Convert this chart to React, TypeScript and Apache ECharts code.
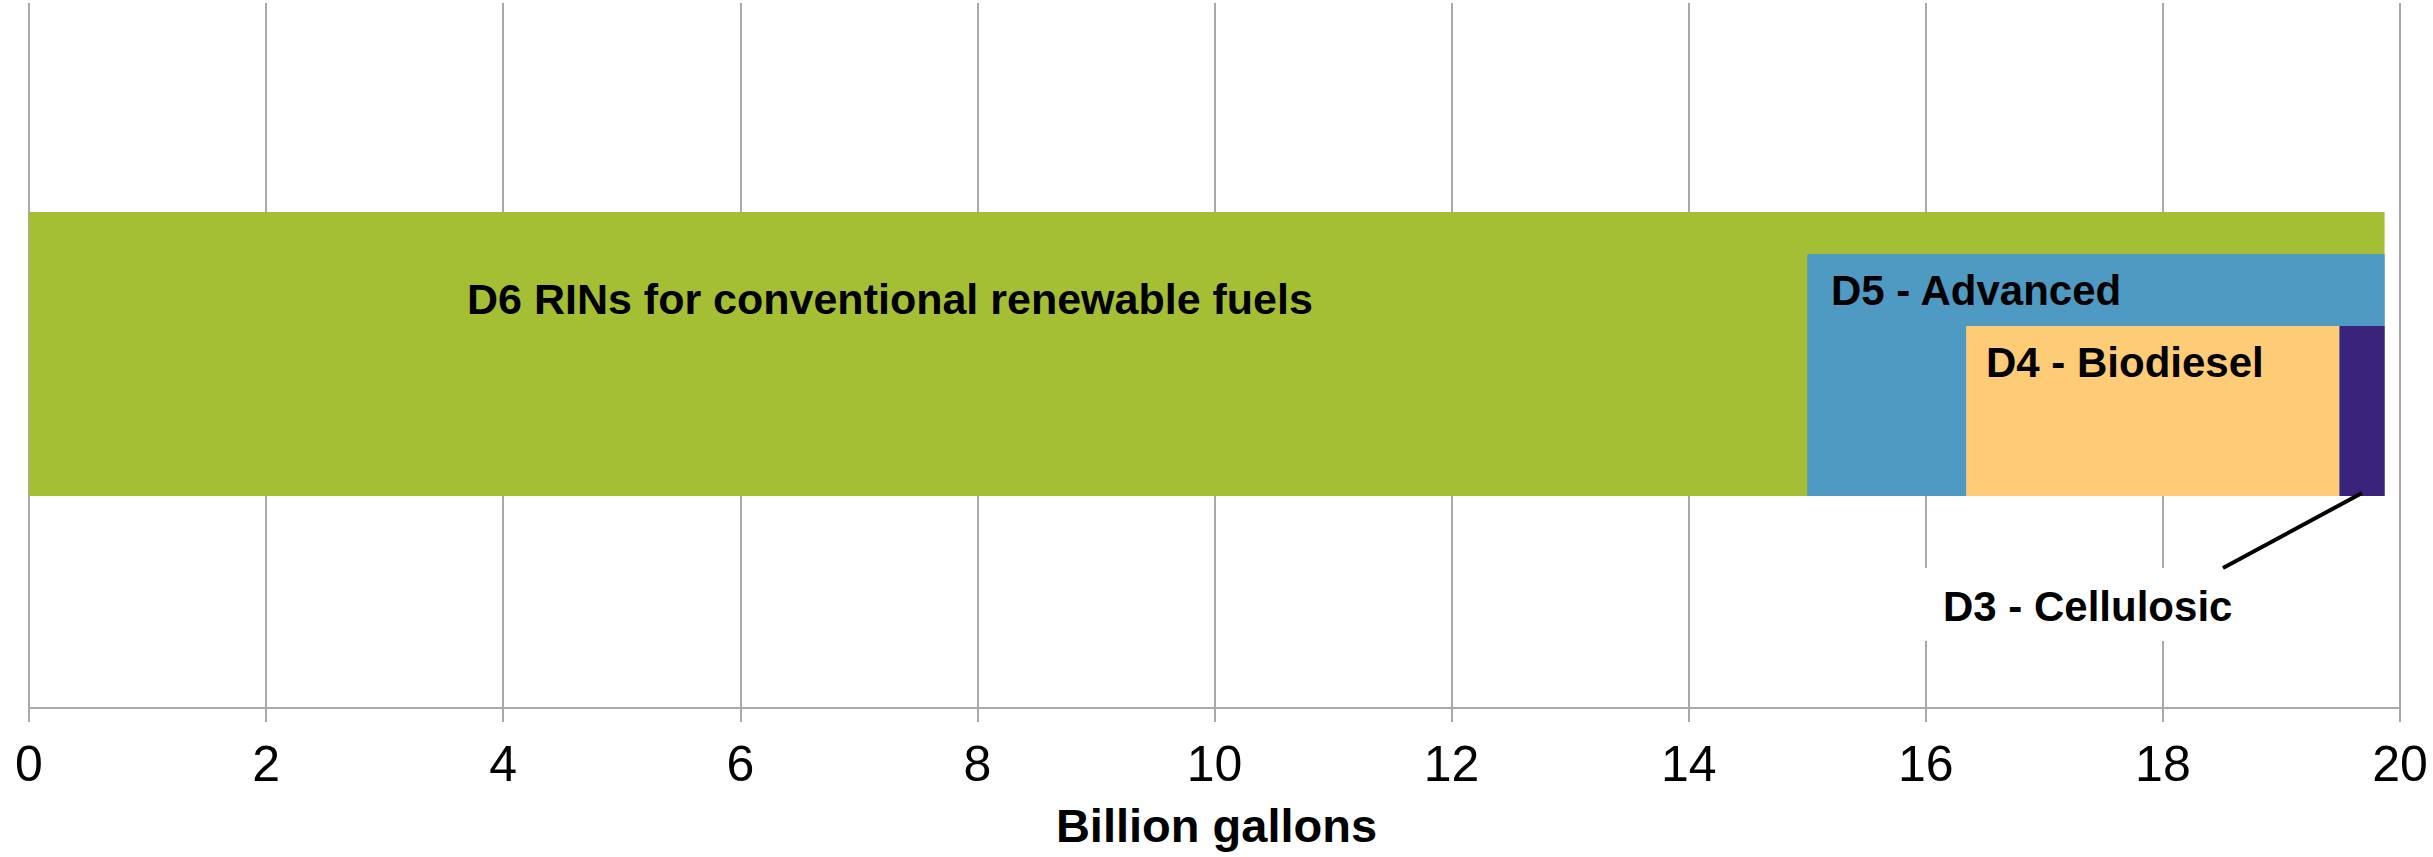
import React, { useEffect, useRef } from "react";
import * as echarts from "echarts";

// ---- data (billion gallons) ----
const segmentNames = ["Total renewable fuel", "D5 - Advanced", "D4 - Biodiesel", "D3 - Cellulosic"];
const segmentStart = [0, 15.0, 16.34, 19.49];
const segmentEnd = [19.87, 19.87, 19.49, 19.87];
const segmentColors = ["#A5BF34", "#4F9AC2", "#FECC76", "#3A247B"];
const xTicks = [0, 2, 4, 6, 8, 10, 12, 14, 16, 18, 20];
const labelD6 = "D6 RINs for conventional renewable fuels";
const labelD5 = "D5 - Advanced";
const labelD4 = "D4 - Biodiesel";
const labelD3 = "D3 - Cellulosic";
const axisTitle = "Billion gallons";

// ---- layout (pixels, offsets from grid top) ----
const W = 2433;
const H = 857;
const GRID = { left: 29, right: 33, top: 3, bottom: 149 };
const segmentTop = [209, 251, 323, 323];
const barBottom = 493;
const FONT = "'Liberation Sans', Arial, Helvetica, sans-serif";
const GRIDCOL = "#a9a9a9";

export default function App() {
  const ref = useRef<HTMLDivElement>(null);
  useEffect(() => {
    if (!ref.current) return;
    const chart = echarts.init(ref.current, undefined, { renderer: "svg" });
    const data = segmentNames.map((n, i) => ({
      name: n,
      value: [segmentStart[i], segmentEnd[i], i],
    }));
    chart.setOption({
      animation: false,
      backgroundColor: "#ffffff",
      grid: { ...GRID, containLabel: false },
      xAxis: {
        type: "value",
        min: xTicks[0],
        max: xTicks[xTicks.length - 1],
        interval: 2,
        axisLine: { show: true, lineStyle: { color: GRIDCOL, width: 2 } },
        axisTick: { show: true, length: 14, lineStyle: { color: GRIDCOL, width: 2 } },
        splitLine: { show: true, lineStyle: { color: GRIDCOL, width: 2 } },
        axisLabel: { fontSize: 50, color: "#000", fontFamily: FONT, margin: 31 },
      },
      yAxis: { type: "value", min: 0, max: 1, show: false },
      series: [
        {
          type: "custom",
          data,
          encode: { x: [0, 1] },
          renderItem: (params: any, api: any) => {
            const s = api.value(0);
            const e = api.value(1);
            const idx = api.value(2);
            const p0 = api.coord([s, 0]);
            const p1 = api.coord([e, 0]);
            const cs = params.coordSys;
            const top = cs.y + segmentTop[idx];
            const bottom = cs.y + barBottom;
            return {
              type: "rect",
              shape: { x: p0[0], y: top, width: p1[0] - p0[0], height: bottom - top },
              style: { fill: segmentColors[idx] },
            };
          },
          z: 3,
        },
      ],
      graphic: [
        {
          type: "text",
          left: 467,
          top: 298 - 21,
          z: 10,
          style: { text: labelD6, font: `bold 43px ${FONT}`, fill: "#000" },
        },
        {
          type: "text",
          left: 1831,
          top: 290 - 21,
          z: 10,
          style: { text: labelD5, font: `bold 42px ${FONT}`, fill: "#000" },
        },
        {
          type: "text",
          left: 1986,
          top: 362 - 21,
          z: 10,
          style: { text: labelD4, font: `bold 42px ${FONT}`, fill: "#000" },
        },
        {
          type: "rect",
          shape: { x: 1895, y: 568, width: 380, height: 73 },
          style: { fill: "#ffffff" },
          z: 8,
        },
        {
          type: "line",
          shape: { x1: 2362, y1: 493, x2: 2223, y2: 568 },
          style: { stroke: "#000", lineWidth: 4 },
          z: 9,
        },
        {
          type: "text",
          left: 1943,
          top: 606 - 21,
          z: 10,
          style: { text: labelD3, font: `bold 42px ${FONT}`, fill: "#000" },
        },
        {
          type: "text",
          left: "center",
          top: 826 - 24,
          z: 10,
          style: { text: axisTitle, font: `bold 47px ${FONT}`, fill: "#000" },
        },
      ],
    });
    return () => chart.dispose();
  }, []);
  return (
    <div
      ref={ref}
      style={{ position: "fixed", left: 0, top: 0, width: W, height: H, background: "#fff" }}
    />
  );
}
